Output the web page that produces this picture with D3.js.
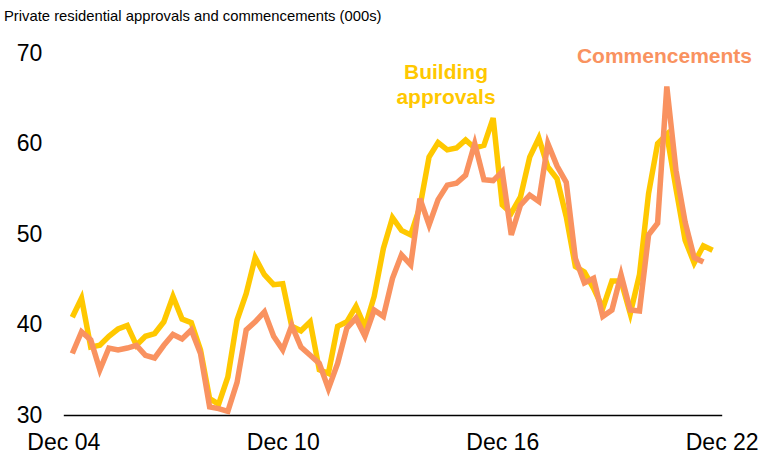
<!DOCTYPE html>
<html>
<head>
<meta charset="utf-8">
<script src="https://cdn.jsdelivr.net/npm/d3@7"></script>
<style>
  html, body { margin: 0; padding: 0; background: #fff; }
  svg { display: block; font-family: "Liberation Sans", Arial, sans-serif; }
</style>
</head>
<body>
<svg id="chart" width="759" height="455"></svg>
<script>
// Quarterly series, first observation Mar 2005 (000s of dwellings)
const approvals = [
  40.8, 42.9, 37.5, 37.7, 38.7, 39.5, 39.9, 37.7, 38.7, 39.0,
  40.3, 43.1, 40.6, 40.2, 37.2, 31.8, 31.2, 34.2, 40.5, 43.4,
  47.4, 45.5, 44.4, 44.5, 39.8, 39.3, 40.3, 35.0, 34.6, 39.8,
  40.3, 42.0, 39.7, 43.1, 48.4, 51.8, 50.4, 49.9, 53.0, 58.5,
  60.1, 59.3, 59.5, 60.4, 59.5, 59.8, 62.8, 53.2, 52.3, 54.1,
  58.5, 60.6, 57.4, 56.1, 51.9, 46.4, 45.8, 44.0, 41.8, 44.8,
  44.8, 41.2, 45.5, 54.5, 60.0, 61.0, 55.0, 49.3, 46.8, 48.7,
  48.2
];
const commencements = [
  36.8, 39.2, 38.3, 35.0, 37.4, 37.2, 37.4, 37.7, 36.6, 36.3,
  37.7, 38.9, 38.4, 39.4, 36.8, 30.9, 30.7, 30.4, 33.6, 39.4,
  40.3, 41.4, 38.7, 37.2, 39.9, 37.5, 36.6, 35.7, 32.9, 35.7,
  39.6, 40.7, 38.7, 41.6, 40.9, 45.1, 47.7, 46.6, 53.9, 51.0,
  53.8, 55.4, 55.6, 56.5, 60.0, 56.0, 55.9, 56.9, 49.9, 53.2,
  54.3, 53.6, 60.0, 57.5, 55.7, 47.3, 44.6, 45.1, 40.9, 41.6,
  45.5, 41.6, 41.5, 49.9, 51.2, 66.3, 57.0, 51.3, 47.4, 46.9
];
const yTicks = [30, 40, 50, 60, 70];
const xTickLabels = ["Dec 04", "Dec 10", "Dec 16", "Dec 22"];

const seriesStart = new Date(2005, 2, 1);   // Mar 2005
const quarterDate = i => d3.timeMonth.offset(seriesStart, 3 * i);
const xTickDates = [new Date(2004, 11, 1), new Date(2010, 11, 1), new Date(2016, 11, 1), new Date(2022, 11, 1)];

const svg = d3.select("#chart");
const plotLeft = 63.3, plotRight = 721.7, plotTop = 53, plotBottom = 415;

const x = d3.scaleTime()
  .domain([xTickDates[0], xTickDates[3]])
  .range([plotLeft, plotRight]);
const y = d3.scaleLinear().domain([30, 70]).range([plotBottom, plotTop]);

// Title
svg.append("text")
  .attr("x", 4).attr("y", 21)
  .attr("font-size", 14.8)
  .attr("fill", "#000")
  .text("Private residential approvals and commencements (000s)");

// Y axis labels
const yAxis = svg.append("g")
  .attr("transform", `translate(${plotLeft},0)`)
  .call(d3.axisLeft(y).tickValues(yTicks).tickSize(0).tickPadding(21).tickFormat(d3.format("d")));
yAxis.select(".domain").remove();
yAxis.selectAll("text")
  .attr("font-size", 23)
  .attr("font-family", "'Liberation Sans', Arial, sans-serif")
  .attr("fill", "#000");

// X axis
const xAxis = svg.append("g")
  .attr("transform", `translate(0,${plotBottom})`)
  .call(d3.axisBottom(x).tickValues(xTickDates).tickSize(0).tickPadding(19)
    .tickFormat((d, i) => xTickLabels[i]));
xAxis.select(".domain").attr("stroke", "#000").attr("stroke-width", 1.6);
xAxis.selectAll("text")
  .attr("font-size", 23)
  .attr("font-family", "'Liberation Sans', Arial, sans-serif")
  .attr("fill", "#000");

const line = d3.line()
  .x((d, i) => x(quarterDate(i)))
  .y(d => y(d));

svg.append("path")
  .datum(approvals)
  .attr("fill", "none")
  .attr("stroke", "#FFC800")
  .attr("stroke-width", 5.5)
  .attr("stroke-linejoin", "miter")
  .attr("d", line);

svg.append("path")
  .datum(commencements)
  .attr("fill", "none")
  .attr("stroke", "#F99260")
  .attr("stroke-width", 5.5)
  .attr("stroke-linejoin", "miter")
  .attr("d", line);

// Series labels
const approvalsLabel = svg.append("text")
  .attr("x", 446).attr("y", 79)
  .attr("text-anchor", "middle")
  .attr("font-size", 21).attr("font-weight", "bold")
  .attr("fill", "#FFC800");
approvalsLabel.append("tspan").attr("x", 446).attr("dy", 0).text("Building");
approvalsLabel.append("tspan").attr("x", 446).attr("dy", 25).text("approvals");

svg.append("text")
  .attr("x", 752).attr("y", 63)
  .attr("text-anchor", "end")
  .attr("font-size", 21).attr("font-weight", "bold")
  .attr("fill", "#F99260")
  .text("Commencements");
</script>
</body>
</html>
